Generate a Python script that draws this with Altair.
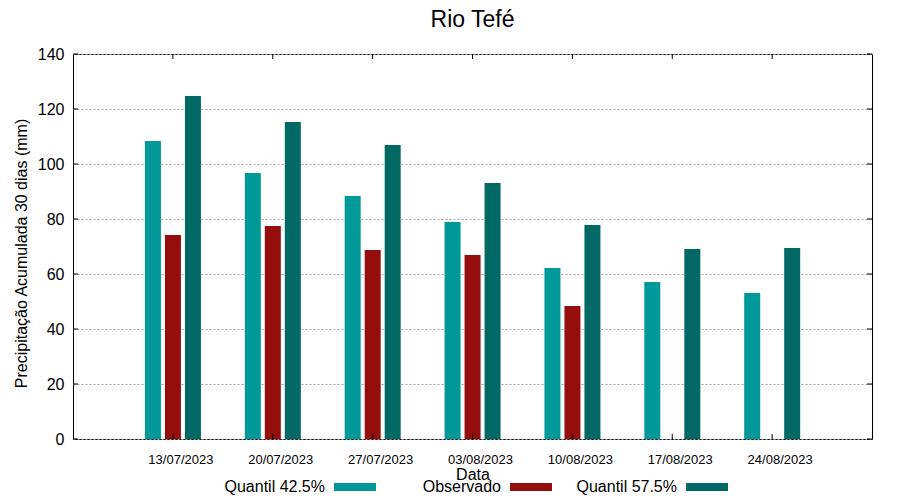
import altair as alt
import pandas as pd

FONT = "Liberation Sans"

dates = ["13/07/2023", "20/07/2023", "27/07/2023", "03/08/2023",
         "10/08/2023", "17/08/2023", "24/08/2023"]
series = ["Quantil 42.5%", "Observado", "Quantil 57.5%"]
q425 = [108.4, 96.7, 88.4, 78.9, 62.2, 57.1, 53.1]
obs = [74.2, 77.5, 68.7, 66.9, 48.4, None, None]
q575 = [124.7, 115.3, 106.9, 93.1, 77.8, 69.1, 69.5]
colors = ["#009999", "#960D0D", "#006966"]
y_ticks = [0, 20, 40, 60, 80, 100, 120, 140]

rows = []
for s, vals in zip(series, [q425, obs, q575]):
    for d, v in zip(dates, vals):
        if v is not None:
            rows.append({"Data": d, "Serie": s, "Valor": v})
df = pd.DataFrame(rows)
tick_df = pd.DataFrame({"Valor": y_ticks})
date_df = pd.DataFrame({"Data": dates})
leg_df = pd.DataFrame({"Serie": series})

W, H = 799, 385
TL = 5

xscale = alt.Scale(domain=dates, paddingInner=0, paddingOuter=0.5)
yscale = alt.Scale(domain=[0, 140], nice=False)
cscale = alt.Scale(domain=series, range=colors)

bars = alt.Chart(df).mark_bar().encode(
    x=alt.X("Data:N", scale=xscale, sort=dates,
            axis=alt.Axis(title="Data", labelAngle=0, ticks=False, grid=False,
                          domain=False, labelFontSize=13, labelPadding=14,
                          labelOffset=8,
                          titleFontSize=16, titleY=40, titleBaseline="alphabetic",
                          labelColor="black", titleColor="black",
                          titleFontWeight="normal", labelFont=FONT, titleFont=FONT)),
    xOffset=alt.XOffset("Serie:N",
                        scale=alt.Scale(domain=series, range=[20, 80],
                                        paddingInner=0.2, paddingOuter=0.1)),
    y=alt.Y("Valor:Q", scale=yscale,
            axis=alt.Axis(title="Precipitação Acumulada 30 dias (mm)", values=y_ticks,
                          grid=True, gridDash=[2, 2], gridColor="#a0a0a0", gridWidth=1,
                          ticks=False, domain=False, labelFontSize=16, labelPadding=9,
                          labelColor="black", titleColor="black", titleFontSize=16,
                          titleFontWeight="normal", titleAngle=270, titleX=-52,
                          titleY=199, titleAlign="center", titleBaseline="middle",
                          labelFont=FONT, titleFont=FONT)),
    color=alt.Color("Serie:N", scale=cscale, legend=None),
)

left_ticks = alt.Chart(tick_df).mark_rule(color="black").encode(
    y=alt.Y("Valor:Q", scale=yscale), x=alt.value(0), x2=alt.value(TL))
right_ticks = alt.Chart(tick_df).mark_rule(color="black").encode(
    y=alt.Y("Valor:Q", scale=yscale), x=alt.value(W - TL), x2=alt.value(W))
bot_ticks = alt.Chart(date_df).mark_rule(color="black").encode(
    x=alt.X("Data:N", scale=xscale, sort=dates, axis=None),
    y=alt.value(H - TL), y2=alt.value(H))
top_ticks = alt.Chart(date_df).mark_rule(color="black").encode(
    x=alt.X("Data:N", scale=xscale, sort=dates, axis=None),
    y=alt.value(0), y2=alt.value(TL))

lx = alt.Scale(type="point", domain=series, range=[282, 634], padding=0)
leg_sw = alt.Chart(leg_df).mark_tick(orient="horizontal", size=42, thickness=8,
                                     opacity=1).encode(
    x=alt.X("Serie:N", scale=lx, axis=None),
    y=alt.value(433),
    color=alt.Color("Serie:N", scale=cscale, legend=None),
)
leg_txt = alt.Chart(leg_df).mark_text(align="right", dx=-30, baseline="alphabetic",
                                      fontSize=16, font=FONT, color="black").encode(
    x=alt.X("Serie:N", scale=lx, axis=None),
    y=alt.value(438),
    text="Serie:N",
)

chart = alt.layer(bars, left_ticks, right_ticks, bot_ticks, top_ticks,
                  leg_sw, leg_txt).resolve_scale(x="independent").properties(
    width=W, height=H,
    autosize=alt.AutoSizeParams(type="none"),
    padding={"left": 65, "top": 46, "right": 20, "bottom": 60},
    title=alt.Title("Rio Tefé", fontSize=23, font=FONT, fontWeight="normal",
                    offset=14, anchor="middle", color="black"),
).configure(font=FONT).configure_view(stroke="black", strokeWidth=1)

chart.save("out.html", embed_options={"renderer": "svg", "actions": False})
